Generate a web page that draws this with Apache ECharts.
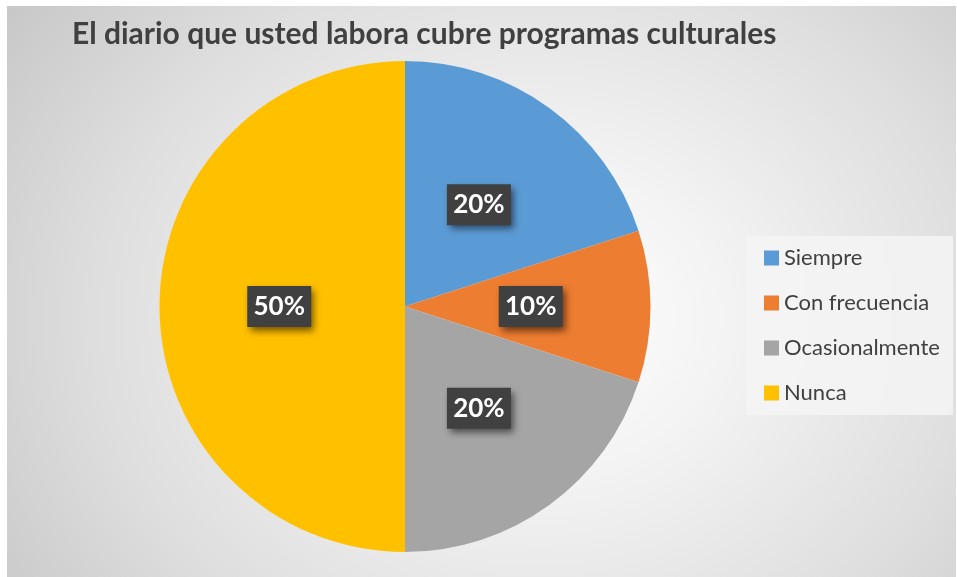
<!DOCTYPE html>
<html>
<head>
<meta charset="utf-8">
<script src="https://cdn.jsdelivr.net/npm/echarts@6/dist/echarts.min.js"></script>
<style>
html,body{margin:0;padding:0;background:#fff;width:957px;height:577px;overflow:hidden;}
#chart{position:absolute;left:7px;top:6px;width:949px;height:571px;
  background: radial-gradient(ellipse 72% 100% at 56% 55%, #ffffff 0%, #f3f3f3 28%, #dedede 65%, #c4c4c4 100%);}
</style>
</head>
<body>
<div id="chart"></div>
<script>
var titleText = 'El diario que usted labora cubre programas culturales';
var categories = ['Siempre', 'Con frecuencia', 'Ocasionalmente', 'Nunca'];
var values = [20, 10, 20, 50];
var colors = ['#5B9BD5', '#ED7D31', '#A5A5A5', '#FFC000'];

var chart = echarts.init(document.getElementById('chart'));
var data = categories.map(function (c, i) {
  return { name: c, value: values[i], itemStyle: { color: colors[i] } };
});
chart.setOption({
  animation: false,
  backgroundColor: 'transparent',
  title: {
    text: titleText,
    left: 60, top: 8,
    textStyle: { fontFamily: 'Lato', fontWeight: 'bold', fontSize: 30, color: '#404040' }
  },
  graphic: [{
    type: 'rect',
    shape: { x: 739, y: 230, width: 207, height: 179 },
    style: { fill: 'rgba(244,244,244,0.85)' },
    z: 0
  }],
  legend: {
    orient: 'vertical',
    left: 757, top: 241,
    padding: 0,
    itemWidth: 15, itemHeight: 15,
    itemGap: 23,
    icon: 'rect',
    data: categories,
    textStyle: { fontFamily: 'Lato', fontSize: 22, color: '#404040', lineHeight: 20 }
  },
  series: [{
    type: 'pie',
    center: [398, 300.5],
    radius: 245.5,
    startAngle: 90,
    clockwise: true,
    data: data,
    itemStyle: { borderWidth: 0 },
    emphasis: { disabled: true },
    label: {
      show: true,
      position: 'inside',
      formatter: function (p) { return p.value + '%'; },
      fontFamily: 'Lato', fontWeight: 'bold', fontSize: 26, color: '#ffffff',
      backgroundColor: '#404040',
      width: 64, height: 25, lineHeight: 25, align: 'center',
      padding: [8, 0],
      shadowColor: 'rgba(0,0,0,0.55)', shadowBlur: 7, shadowOffsetX: 3, shadowOffsetY: 4
    },
    labelLine: { show: false }
  }]
});
</script>
</body>
</html>
